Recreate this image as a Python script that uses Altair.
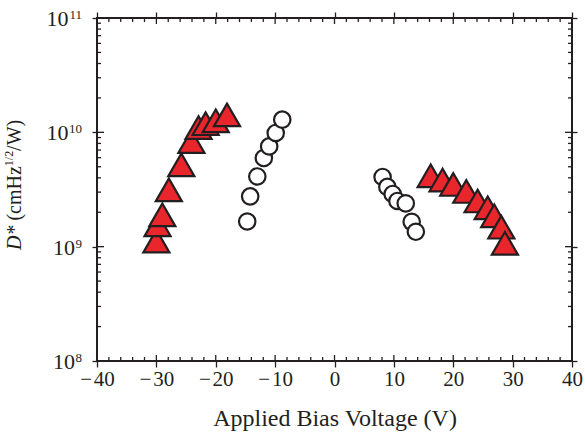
import altair as alt
import pandas as pd

# ---- data ----
tri_v = [-30.0, -29.8, -29.0, -27.9, -25.8, -24.1, -22.9, -21.7, -20.0, -18.1,
         16.2, 18.2, 20.0, 22.2, 24.1, 25.8, 26.9, 28.1, 28.7]
tri_d = [1.12e9, 1.55e9, 1.90e9, 3.14e9, 5.2e9, 8.3e9, 1.10e10, 1.19e10, 1.26e10, 1.42e10,
         4.17e9, 3.83e9, 3.50e9, 3.04e9, 2.51e9, 2.19e9, 1.86e9, 1.48e9, 1.07e9]

circ_v = [-14.7, -14.2, -13.0, -11.9, -11.0, -9.9, -8.8,
          8.1, 8.9, 9.8, 10.6, 12.0, 13.0, 13.7]
circ_d = [1.66e9, 2.75e9, 4.11e9, 5.96e9, 7.53e9, 9.87e9, 1.29e10,
          4.07e9, 3.33e9, 2.89e9, 2.51e9, 2.39e9, 1.65e9, 1.35e9]

x_major = [-40, -30, -20, -10, 0, 10, 20, 30, 40]
x_minor = [v for v in range(-38, 40, 2) if v % 10 != 0]
y_major = [1e8, 1e9, 1e10, 1e11]
y_exponents = ["8", "9", "10", "11"]
y_minor = [m * 10 ** e for e in (8, 9, 10) for m in range(2, 10)]

x_title = "Applied Bias Voltage (V)"

W, H = 475, 343
INK = "#231f20"
RED = "#e8262b"
FONT = "Liberation Serif"

xs = alt.Scale(domain=[-40, 40], nice=False, zero=False)
ys = alt.Scale(type="log", domain=[1e8, 1e11], nice=False)

tri_df = pd.DataFrame({"v": tri_v, "d": tri_d})
circ_df = pd.DataFrame({"v": circ_v, "d": circ_d})

xlab_expr = "datum.value < 0 ? '−\u200a' + abs(datum.value) : '' + datum.value"

triangles = alt.Chart(tri_df).mark_point(
    shape="triangle-up", filled=True, fill=RED, stroke=INK, strokeWidth=2.2,
    size=680, opacity=1, fillOpacity=1,
).encode(
    x=alt.X("v:Q", scale=xs, axis=alt.Axis(
        orient="bottom", values=x_major, title=x_title, labelExpr=xlab_expr,
        tickSize=6, labelPadding=1, titlePadding=17, grid=False, domain=False,
        labelFont=FONT, labelFontSize=21, titleFont=FONT, titleFontSize=24,
        titleFontWeight="normal", labelColor=INK, titleColor=INK,
        tickColor=INK, tickWidth=1.3, labelFlush=False)),
    y=alt.Y("d:Q", scale=ys, axis=alt.Axis(
        orient="left", values=y_major, title=None, labels=False,
        tickSize=5, grid=False, domain=False,
        tickColor=INK, tickWidth=1.3)),
)

circles = alt.Chart(circ_df).mark_point(
    shape="circle", filled=True, fill="white", stroke=INK, strokeWidth=2.2,
    size=270, opacity=1, fillOpacity=1,
).encode(
    x=alt.X("v:Q", scale=xs, axis=alt.Axis(
        orient="top", values=x_major, title=None, labels=False,
        tickSize=6, grid=False, domain=False, tickColor=INK, tickWidth=1.3)),
    y=alt.Y("d:Q", scale=ys, axis=alt.Axis(
        orient="right", values=y_major, title=None, labels=False,
        tickSize=5, grid=False, domain=False, tickColor=INK, tickWidth=1.3)),
)

xmaj_df = pd.DataFrame({"t": x_major})
xmin_df = pd.DataFrame({"t": x_minor})
ymaj_df = pd.DataFrame({"t": y_major})
ymin_df = pd.DataFrame({"t": y_minor})


def xticks(df, y0, y1):
    return alt.Chart(df).mark_rule(color=INK, strokeWidth=1.3).encode(
        x=alt.X("t:Q", scale=xs, axis=None),
        y=alt.value(y0), y2=alt.value(y1))


def yticks(df, x0, x1):
    return alt.Chart(df).mark_rule(color=INK, strokeWidth=1.3).encode(
        y=alt.Y("t:Q", scale=ys, axis=None),
        x=alt.value(x0), x2=alt.value(x1))


tick_layers = [
    xticks(xmaj_df, H, H - 6), xticks(xmin_df, H, H - 4),
    xticks(xmaj_df, 0, 6), xticks(xmin_df, 0, 4),
    yticks(ymaj_df, 0, 7), yticks(ymin_df, 0, 4),
    yticks(ymaj_df, W, W - 7), yticks(ymin_df, W, W - 4),
]

# y tick labels as 10 with a raised exponent
EXP_FS = 13
BASE_FS = 22
label_layers = []
for val, ex in zip(y_major, y_exponents):
    row = pd.DataFrame({"t": [val], "e": [ex], "b": ["10"]})
    exp_w = 0.5 * EXP_FS * len(ex)
    label_layers.append(
        alt.Chart(row).mark_text(
            align="right", baseline="alphabetic", font=FONT, fontSize=EXP_FS,
            color=INK, dy=1,
        ).encode(text="e:N", y=alt.Y("t:Q", scale=ys, axis=None), x=alt.value(-15))
    )
    label_layers.append(
        alt.Chart(row).mark_text(
            align="right", baseline="alphabetic", font=FONT, fontSize=BASE_FS,
            color=INK, dy=8,
        ).encode(text="b:N", y=alt.Y("t:Q", scale=ys, axis=None),
                 x=alt.value(-15 - exp_w - 0.5))
    )

# y-axis title: italic D*, then (cmHz^(1/2)/W)
title_parts = [
    ("D*", 20, "italic", 0),
    ("(cmHz", 20, "normal", 0),
    ("1/2", 12, "normal", -8),
    ("/W)", 20, "normal", 0),
]
title_y = [232, 202.6, 148.2, 132.9]
title_layers = []
for (txt, fs, style, shift), yy in zip(title_parts, title_y):
    title_layers.append(
        alt.Chart(pd.DataFrame({"s": [txt]})).mark_text(
            angle=270, align="left", baseline="alphabetic", font=FONT,
            fontSize=fs, fontStyle=style, color=INK,
        ).encode(text="s:N", x=alt.value(-76 + shift), y=alt.value(yy))
    )

chart = alt.layer(
    *tick_layers, *label_layers, *title_layers, triangles, circles
).resolve_axis(x="independent", y="independent").properties(
    width=W, height=H,
    autosize=alt.AutoSizeParams(type="none"),
    padding={"left": 97, "top": 18, "right": 13, "bottom": 72},
    background="white",
).configure_view(stroke=INK, strokeWidth=2)

chart.save("out.html", embed_options={"renderer": "svg", "actions": False})
